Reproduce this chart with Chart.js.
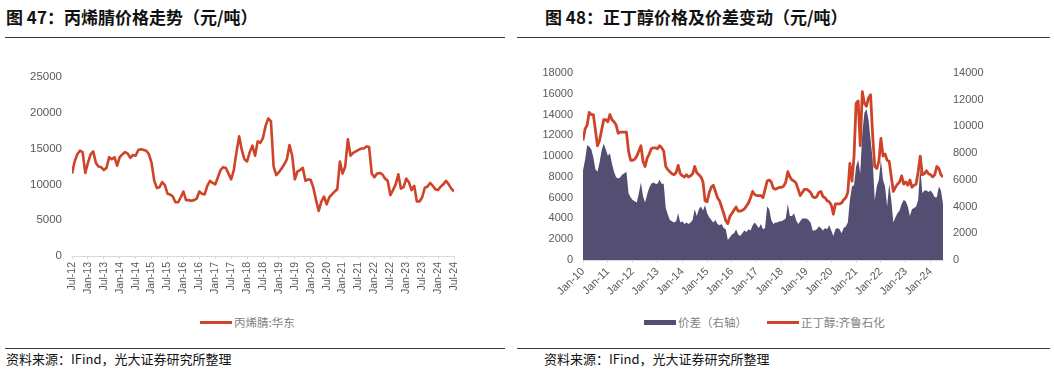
<!DOCTYPE html>
<html>
<head>
<meta charset="utf-8">
<script src="https://cdn.jsdelivr.net/npm/chart.js@4/dist/chart.umd.min.js"></script>
<style>
  body { margin: 0; width: 1054px; height: 370px; background: #fff; position: relative; overflow: hidden; }
  .title { position: absolute; top: 6px; font: bold 17px "Noto Sans CJK SC", sans-serif; color: #111; line-height: 22px; white-space: nowrap; }
  .rule { position: absolute; height: 1px; background: #3a3a3a; }
  .src { position: absolute; top: 350px; font: 13px "Noto Sans CJK SC", sans-serif; color: #111; line-height: 18px; white-space: nowrap; }
  canvas { position: absolute; }
  .legend { position: absolute; top: 314px; display: flex; align-items: center; font: 11.5px "Noto Sans CJK SC", sans-serif; color: #7f7f7f; white-space: nowrap; }
  .legend .sw { display: inline-block; width: 32px; margin-right: 2px; }
  .legend .item { display: flex; align-items: center; margin-right: 20px; }
  .legend .item:last-child { margin-right: 0; }
</style>
</head>
<body>
<div class="title" style="left:6px">图 47：丙烯腈价格走势（元/吨）</div>
<div class="title" style="left:545px">图 48：正丁醇价格及价差变动（元/吨）</div>
<div class="rule" style="left:5px;width:500px;top:37px"></div>
<div class="rule" style="left:517px;width:533px;top:37px"></div>

<canvas id="c1" width="505" height="246" style="left:0;top:60px"></canvas>
<canvas id="c2" width="527" height="250" style="left:527px;top:55px"></canvas>

<div class="legend" id="lg1" style="left:200px">
  <span class="item"><span class="sw" style="height:3px;background:#cf4428"></span>丙烯腈:华东</span>
</div>
<div class="legend" id="lg2" style="left:644px">
  <span class="item"><span class="sw" style="height:5px;background:#544f72"></span>价差（右轴）</span>
  <span class="item"><span class="sw" style="height:3px;background:#cf4428"></span>正丁醇:齐鲁石化</span>
</div>

<div class="rule" style="left:5px;width:500px;top:348px"></div>
<div class="rule" style="left:517px;width:533px;top:348px"></div>
<div class="src" style="left:6px">资料来源：IFind，光大证券研究所整理</div>
<div class="src" style="left:544px">资料来源：IFind，光大证券研究所整理</div>

<script>
// 图47 丙烯腈:华东, monthly from Jul-12 to Jul-24
const acnTicks = ["Jul-12","Jan-13","Jul-13","Jan-14","Jul-14","Jan-15","Jul-15","Jan-16","Jul-16",
  "Jan-17","Jul-17","Jan-18","Jul-18","Jan-19","Jul-19","Jan-20","Jul-20","Jan-21","Jul-21",
  "Jan-22","Jul-22","Jan-23","Jul-23","Jan-24","Jul-24"];
const acnPrice = [
  11500,13200,14200,14700,14500,11600,
  13000,14200,14600,13000,12500,12400,
  12000,12300,13800,13500,13800,12600,
  13800,14200,14500,14300,13700,14100,
  14000,14800,14900,14800,14700,14200,
  13000,10500,9500,9600,10300,9900,
  8700,8600,8300,7500,7500,8200,
  9000,7800,7800,7700,7800,8000,
  9000,8700,8600,9800,10500,10200,
  10000,11000,12000,12400,12300,11500,
  10700,12000,14500,16700,14800,13500,
  13200,14500,15400,14000,16000,15800,
  16500,18200,19200,18800,12500,11300,
  11700,12200,12800,13500,15500,14000,
  10700,11800,12000,12300,10500,10700,
  10600,9500,7800,6300,7600,8300,
  7200,8200,8600,9000,9300,13200,
  11500,12500,16300,14000,14400,14600,
  14800,15000,15000,15300,15200,11500,
  11000,11500,11600,11400,10800,10500,
  8500,9200,10000,11400,9400,9600,
  10800,10300,9200,9800,7600,7600,
  8200,9500,9700,10200,9800,9300,
  9200,9700,10000,10500,10000,9400,
  9000
];

// 图48, monthly from Jan-10 to Jul-24
const nbaTicks = ["Jan-10","Jan-11","Jan-12","Jan-13","Jan-14","Jan-15","Jan-16","Jan-17",
  "Jan-18","Jan-19","Jan-20","Jan-21","Jan-22","Jan-23","Jan-24"];
// 正丁醇:齐鲁石化 (left axis)
const nbaPrice = [
  11500,12600,13000,14200,14000,14000,12500,11000,11500,12500,13500,13500,
  13300,14000,13500,13300,13000,12200,12300,12300,12300,12300,10500,9600,
  9600,9700,10000,10500,11000,9500,9000,9800,10200,10700,10800,10800,
  10700,11000,10800,10500,9000,8700,8500,8300,8200,8400,9100,8300,
  8100,8000,8200,8000,8100,8300,9000,8400,8200,8000,7500,5700,
  5600,6500,7000,7200,6600,6000,5700,5100,4500,3800,3500,4200,
  4500,4800,5100,4700,4700,4800,4900,5200,5500,6000,6600,6300,
  6200,6200,6200,6000,6800,7600,7700,7500,6900,6800,6900,7000,
  7000,7100,7500,8500,8000,7700,7600,7400,6800,6200,6500,6800,
  6800,6700,6500,6100,6000,6100,6500,6600,6100,6000,5700,5600,
  5300,4400,5400,5400,5400,5500,5800,6000,6500,9300,7600,10000,
  15100,15300,11000,16200,15100,14800,15600,15900,12000,9000,8800,9500,
  11700,10000,10200,9600,9500,8000,6600,7000,7300,7500,8100,7300,
  7500,7200,7700,7000,7200,7300,8500,10000,8200,8300,8600,8300,
  8200,8000,8200,9000,8800,8200,8000
];
// 价差 (right axis)
const nbaSpread = [
  6700,7500,8600,8500,8300,7700,6800,6600,7300,8200,8700,8300,
  7800,8000,7200,6600,6200,6100,6200,6400,6500,6600,5000,4700,
  4500,4400,4300,5000,5800,4800,4300,4900,5400,5700,5800,5700,
  5700,6000,5700,5700,3900,3400,3000,2900,2800,2900,3500,2800,
  2900,2700,2800,2700,2800,3000,3800,3300,3800,4000,3700,4100,
  3500,3200,3000,2800,3000,2700,2600,2700,2400,2300,1500,1700,
  1900,2000,2300,1900,1800,2000,2200,2100,2300,2200,2600,2800,
  2600,2400,2700,2300,2400,4000,3800,3000,2700,2800,2800,2900,
  2900,3000,3100,4200,3300,3300,3500,3000,2700,2900,3100,3100,
  3100,3000,2800,2200,2200,2300,2500,2400,2200,2400,2300,2600,
  2200,1800,2300,2400,2300,2000,2400,2500,2800,4500,5500,5600,
  7000,7500,6500,9500,11000,11300,10500,9000,7500,4500,5500,6000,
  7500,6000,5500,4000,5700,4500,2800,3200,3500,3700,4200,4500,
  4400,4000,3300,3800,3900,4000,4500,7000,5000,5200,5200,5100,
  5200,5000,4700,4700,5500,5200,4200
];

const RED = "#cf4428";
const PURPLE = "#544f72";
const GREY = "#595959";
Chart.defaults.font.family = '"Liberation Sans", Arial, sans-serif';
Chart.defaults.color = GREY;

function pts(arr) { return arr.map((v, i) => ({ x: i, y: v })); }
const plain = v => String(v);

new Chart(document.getElementById("c1"), {
  type: "line",
  data: {
    datasets: [{
      data: pts(acnPrice), borderColor: RED, borderWidth: 2.6, borderJoinStyle: "round",
      pointRadius: 0, tension: 0, fill: false
    }]
  },
  options: {
    responsive: false, animation: false, devicePixelRatio: 1,
    layout: { padding: { top: 16, right: 51, left: 0, bottom: 0 } },
    plugins: { legend: { display: false }, tooltip: { enabled: false } },
    scales: {
      x: {
        type: "linear", min: 0, max: 144,
        afterFit: s => { s.height = 50; },
        border: { color: "#d9d9d9" },
        grid: { drawOnChartArea: false, tickLength: 3, color: "#d9d9d9" },
        ticks: {
          stepSize: 6, minRotation: 90, maxRotation: 90, padding: 3,
          font: { size: 10.5 }, color: GREY,
          callback: v => acnTicks[v / 6]
        }
      },
      y: {
        min: 0, max: 25000,
        afterFit: s => { s.width = 72; },
        border: { display: false },
        grid: { display: false, drawTicks: false },
        ticks: { stepSize: 5000, padding: 10, font: { size: 11.5 }, color: GREY, callback: plain }
      }
    }
  }
});

new Chart(document.getElementById("c2"), {
  type: "line",
  data: {
    datasets: [
      {
        label: "正丁醇:齐鲁石化", data: pts(nbaPrice), yAxisID: "yL", order: 0,
        borderColor: RED, borderWidth: 2.8, borderJoinStyle: "round",
        pointRadius: 0, tension: 0, fill: false
      },
      {
        label: "价差（右轴）", data: pts(nbaSpread), yAxisID: "yR", order: 1,
        borderWidth: 0, borderColor: PURPLE, backgroundColor: PURPLE, pointRadius: 0, tension: 0, fill: "origin"
      }
    ]
  },
  options: {
    responsive: false, animation: false, devicePixelRatio: 1,
    layout: { padding: { top: 18, right: 51, left: 0, bottom: 0 } },
    plugins: { legend: { display: false }, tooltip: { enabled: false } },
    scales: {
      x: {
        type: "linear", min: 0, max: 174,
        afterFit: s => { s.height = 45; },
        border: { color: "#d9d9d9" },
        grid: { drawOnChartArea: false, tickLength: 3, color: "#d9d9d9" },
        ticks: {
          stepSize: 12, includeBounds: false, minRotation: 45, maxRotation: 45, padding: 2,
          font: { size: 11 }, color: GREY,
          callback: v => nbaTicks[v / 12]
        }
      },
      yL: {
        position: "left", min: 0, max: 18000,
        afterFit: s => { s.width = 56; },
        border: { display: false },
        grid: { display: false, drawTicks: false },
        ticks: { stepSize: 2000, padding: 10, font: { size: 11 }, color: GREY, callback: plain }
      },
      yR: {
        position: "right", min: 0, max: 14000,
        afterFit: s => { s.width = 60; },
        border: { display: false },
        grid: { display: false, drawTicks: false },
        ticks: { stepSize: 2000, padding: 10, font: { size: 11 }, color: GREY, callback: plain }
      }
    }
  }
});
</script>
</body>
</html>
